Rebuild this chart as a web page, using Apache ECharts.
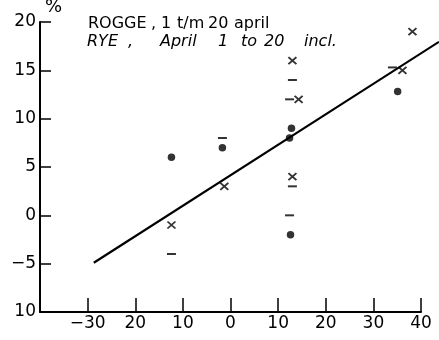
<!DOCTYPE html>
<html>
<head>
<meta charset="utf-8">
<script src="https://cdn.jsdelivr.net/npm/echarts@6/dist/echarts.min.js"></script>
<style>html,body{margin:0;padding:0;background:#fff}#c{width:439px;height:340px}</style>
</head>
<body>
<div id="c"></div>
<script>
// x tick values and labels (minus signs lost on the original, kept as printed)
var xTickValues = [-40, -30, -20, -10, 0, 10, 20, 30, 40];
var xTickLabels = ['', '\u221230', '20', '10', '0', '10', '20', '30', '40'];
var yTickValues = [-10, -5, 0, 5, 10, 15, 20];
var yTickLabels = ['10', '\u22125', '0', '5', '10', '15', '20'];

// dots
var dotX = [-12.4, -1.7, 12.8, 12.4, 12.6, 35.1];
var dotY = [6, 7, 9, 8, -2, 12.8];
// crosses
var crossX = [-12.4, -1.3, 13.0, 14.3, 13.0, 36.1, 38.2];
var crossY = [-1, 3, 16, 12, 4, 15, 19];
// dashes
var dashX = [-12.4, -1.7, 13.0, 12.4, 13.0, 12.4, 34.0];
var dashY = [-4, 8, 14, 12, 3, 0, 15.3];
// regression line end points
var lineX = [-28.7, 43.8];
var lineY = [-4.9, 17.95];

// title words (line 1 upright, line 2 italic)
var title1Words = ['ROGGE', ',', '1', 't/m', '20', 'april'];
var title2Words = ['RYE', ',', 'April', '1', 'to', '20', 'incl.'];

function zip(a, b) { return a.map(function (v, i) { return [v, b[i]]; }); }

// layout positions of the title words (pixels)
var title1Left = [88, 151, 161, 177, 208, 234];
var title2Left = [87, 128, 160, 218, 241, 264, 304];

var graphics = [
  {type: 'text', left: 45, top: -2, style: {text: '%', font: '18px "DejaVu Sans"', fill: '#000'}}
];
title1Words.forEach(function (w, i) {
  graphics.push({type: 'text', left: title1Left[i], top: 16, style: {text: w, font: '16px "DejaVu Sans"', fill: '#000'}});
});
title2Words.forEach(function (w, i) {
  graphics.push({type: 'text', left: title2Left[i], top: 34, style: {text: w, font: 'italic 16px "DejaVu Sans"', fill: '#000'}});
});

var chart = echarts.init(document.getElementById('c'), null, {renderer: 'canvas'});
var FONT = 'DejaVu Sans';
chart.setOption({
  animation: false,
  backgroundColor: '#fff',
  grid: [
    {left: 40, right: 18, top: 22, bottom: 28},
    {left: 40, right: 0, top: 22, bottom: 28}
  ],
  xAxis: [{
    type: 'value', min: -40, max: 40, interval: 10, gridIndex: 0,
    axisLine: {onZero: false, lineStyle: {color: '#000', width: 2}},
    axisTick: {inside: true, length: 14, lineStyle: {color: '#000', width: 1.5}},
    splitLine: {show: false},
    axisLabel: {
      color: '#000', fontFamily: FONT, fontSize: 17, margin: 3,
      formatter: function (v) { var i = xTickValues.indexOf(v); return i >= 0 ? xTickLabels[i] : ''; }
    }
  }, {
    type: 'value', min: -40, max: 43.8, gridIndex: 1, show: false
  }],
  yAxis: [{
    type: 'value', min: -10, max: 20, interval: 5, gridIndex: 0,
    axisLine: {onZero: false, lineStyle: {color: '#000', width: 2}},
    axisTick: {inside: true, length: 11, lineStyle: {color: '#000', width: 1.5}},
    splitLine: {show: false},
    axisLabel: {
      color: '#000', fontFamily: FONT, fontSize: 17, margin: 4,
      formatter: function (v) { var i = yTickValues.indexOf(v); return i >= 0 ? yTickLabels[i] : ''; }
    }
  }, {
    type: 'value', min: -10, max: 20, gridIndex: 1, show: false
  }],
  graphic: graphics,
  series: [
    {
      type: 'line', data: zip(lineX, lineY), xAxisIndex: 1, yAxisIndex: 1, symbol: 'none',
      lineStyle: {color: '#000', width: 2.2}, z: 1
    },
    {
      type: 'scatter', data: zip(dotX, dotY), symbol: 'circle', symbolSize: 7.5,
      itemStyle: {color: '#000'}, z: 3
    },
    {
      type: 'scatter', data: zip(crossX, crossY), symbol: 'path://M0,0L10,10M10,0L0,10',
      symbolSize: [8, 7], symbolKeepAspect: false,
      itemStyle: {color: 'rgba(0,0,0,0)', borderColor: '#000', borderWidth: 1.8}, z: 3
    },
    {
      type: 'scatter', data: zip(dashX, dashY), symbol: 'rect', symbolSize: [9, 2],
      itemStyle: {color: '#000'}, z: 3
    }
  ]
});
</script>
</body>
</html>
